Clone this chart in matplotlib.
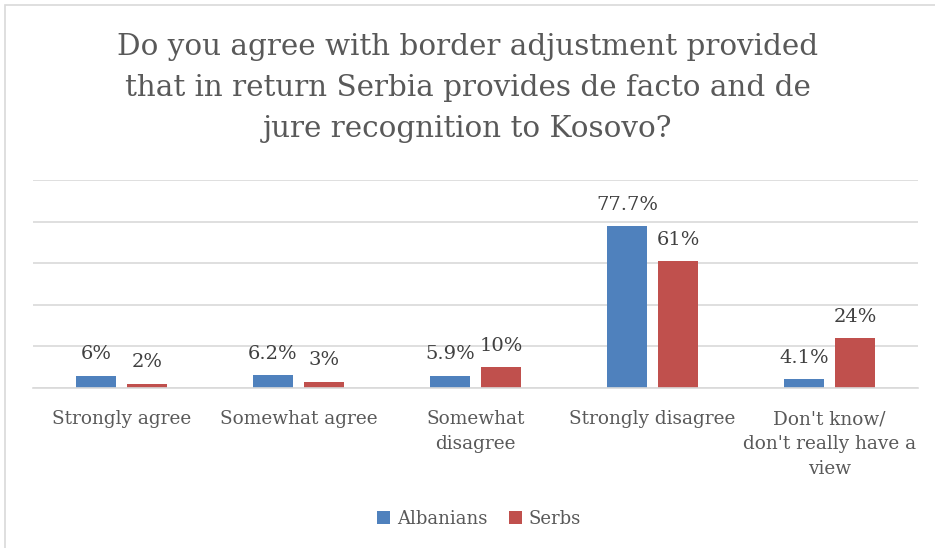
import matplotlib
matplotlib.use("Agg")
import matplotlib.pyplot as plt
import numpy as np
from matplotlib.patches import Rectangle

categories = ["Strongly agree", "Somewhat agree", "Somewhat\ndisagree",
              "Strongly disagree", "Don't know/\ndon't really have a\nview"]
albanians = [6, 6.2, 5.9, 77.7, 4.1]
serbs = [2, 3, 10, 61, 24]
alb_labels = ["6%", "6.2%", "5.9%", "77.7%", "4.1%"]
serb_labels = ["2%", "3%", "10%", "61%", "24%"]
series_names = ["Albanians", "Serbs"]
title = ("Do you agree with border adjustment provided\n"
         "that in return Serbia provides de facto and de\n"
         "jure recognition to Kosovo?")

BLUE = "#4F81BD"
RED = "#C0504D"
FONT = ["DejaVu Serif"]

W, H = 935, 548
fig = plt.figure(figsize=(W / 100, H / 100), dpi=100)
fig.patch.set_facecolor("white")
fig.patches.append(Rectangle((5 / W, -0.01), 1.0, 1.0 - 5 / H + 0.01, transform=fig.transFigure,
                             fill=False, edgecolor="#D9D9D9", linewidth=1.2))

ax = fig.add_axes([33 / W, 1 - 388 / H, (918 - 33) / W, (388 - 180) / H])
x = np.arange(len(categories))
bw = 0.226
off = 0.144
b1 = ax.bar(x - off, albanians, bw, color=BLUE, label=series_names[0])
b2 = ax.bar(x + off, serbs, bw, color=RED, label=series_names[1])

for bars, labels in ((b1, alb_labels), (b2, serb_labels)):
    for rect, lab in zip(bars, labels):
        ax.annotate(lab, (rect.get_x() + rect.get_width() / 2, rect.get_height()),
                    xytext=(0, 9), textcoords="offset points", ha="center", va="bottom",
                    fontsize=14, color="#404040", family=FONT)

ax.set_xlim(-0.5, len(categories) - 0.5)
ax.set_ylim(0, 100)
ax.set_yticks(np.arange(0, 101, 20))
ax.yaxis.grid(True, color="#D9D9D9", linewidth=1.2)
ax.set_axisbelow(True)
ax.tick_params(axis="y", left=False, labelleft=False)
ax.tick_params(axis="x", length=0, pad=16)
ax.set_xticks(x)
ax.set_xticklabels(categories, fontsize=13.3, color="#595959", family=FONT, linespacing=1.5)
for s in ["top", "right", "left"]:
    ax.spines[s].set_visible(False)
ax.spines["bottom"].set_color("#D9D9D9")
ax.spines["bottom"].set_linewidth(1.2)

fig.text(0.5, 1 - 88 / H, title, ha="center", va="center", fontsize=21.2,
         color="#595959", family=FONT, linespacing=1.57)

leg = fig.legend(loc="center", bbox_to_anchor=(479 / W, 1 - 519 / H), ncol=2, frameon=False,
                 prop={"family": FONT, "size": 13}, handlelength=0.7, handleheight=0.7,
                 columnspacing=1.2, handletextpad=0.4)
for t in leg.get_texts():
    t.set_color("#595959")

fig.savefig("out.png", dpi=100)
